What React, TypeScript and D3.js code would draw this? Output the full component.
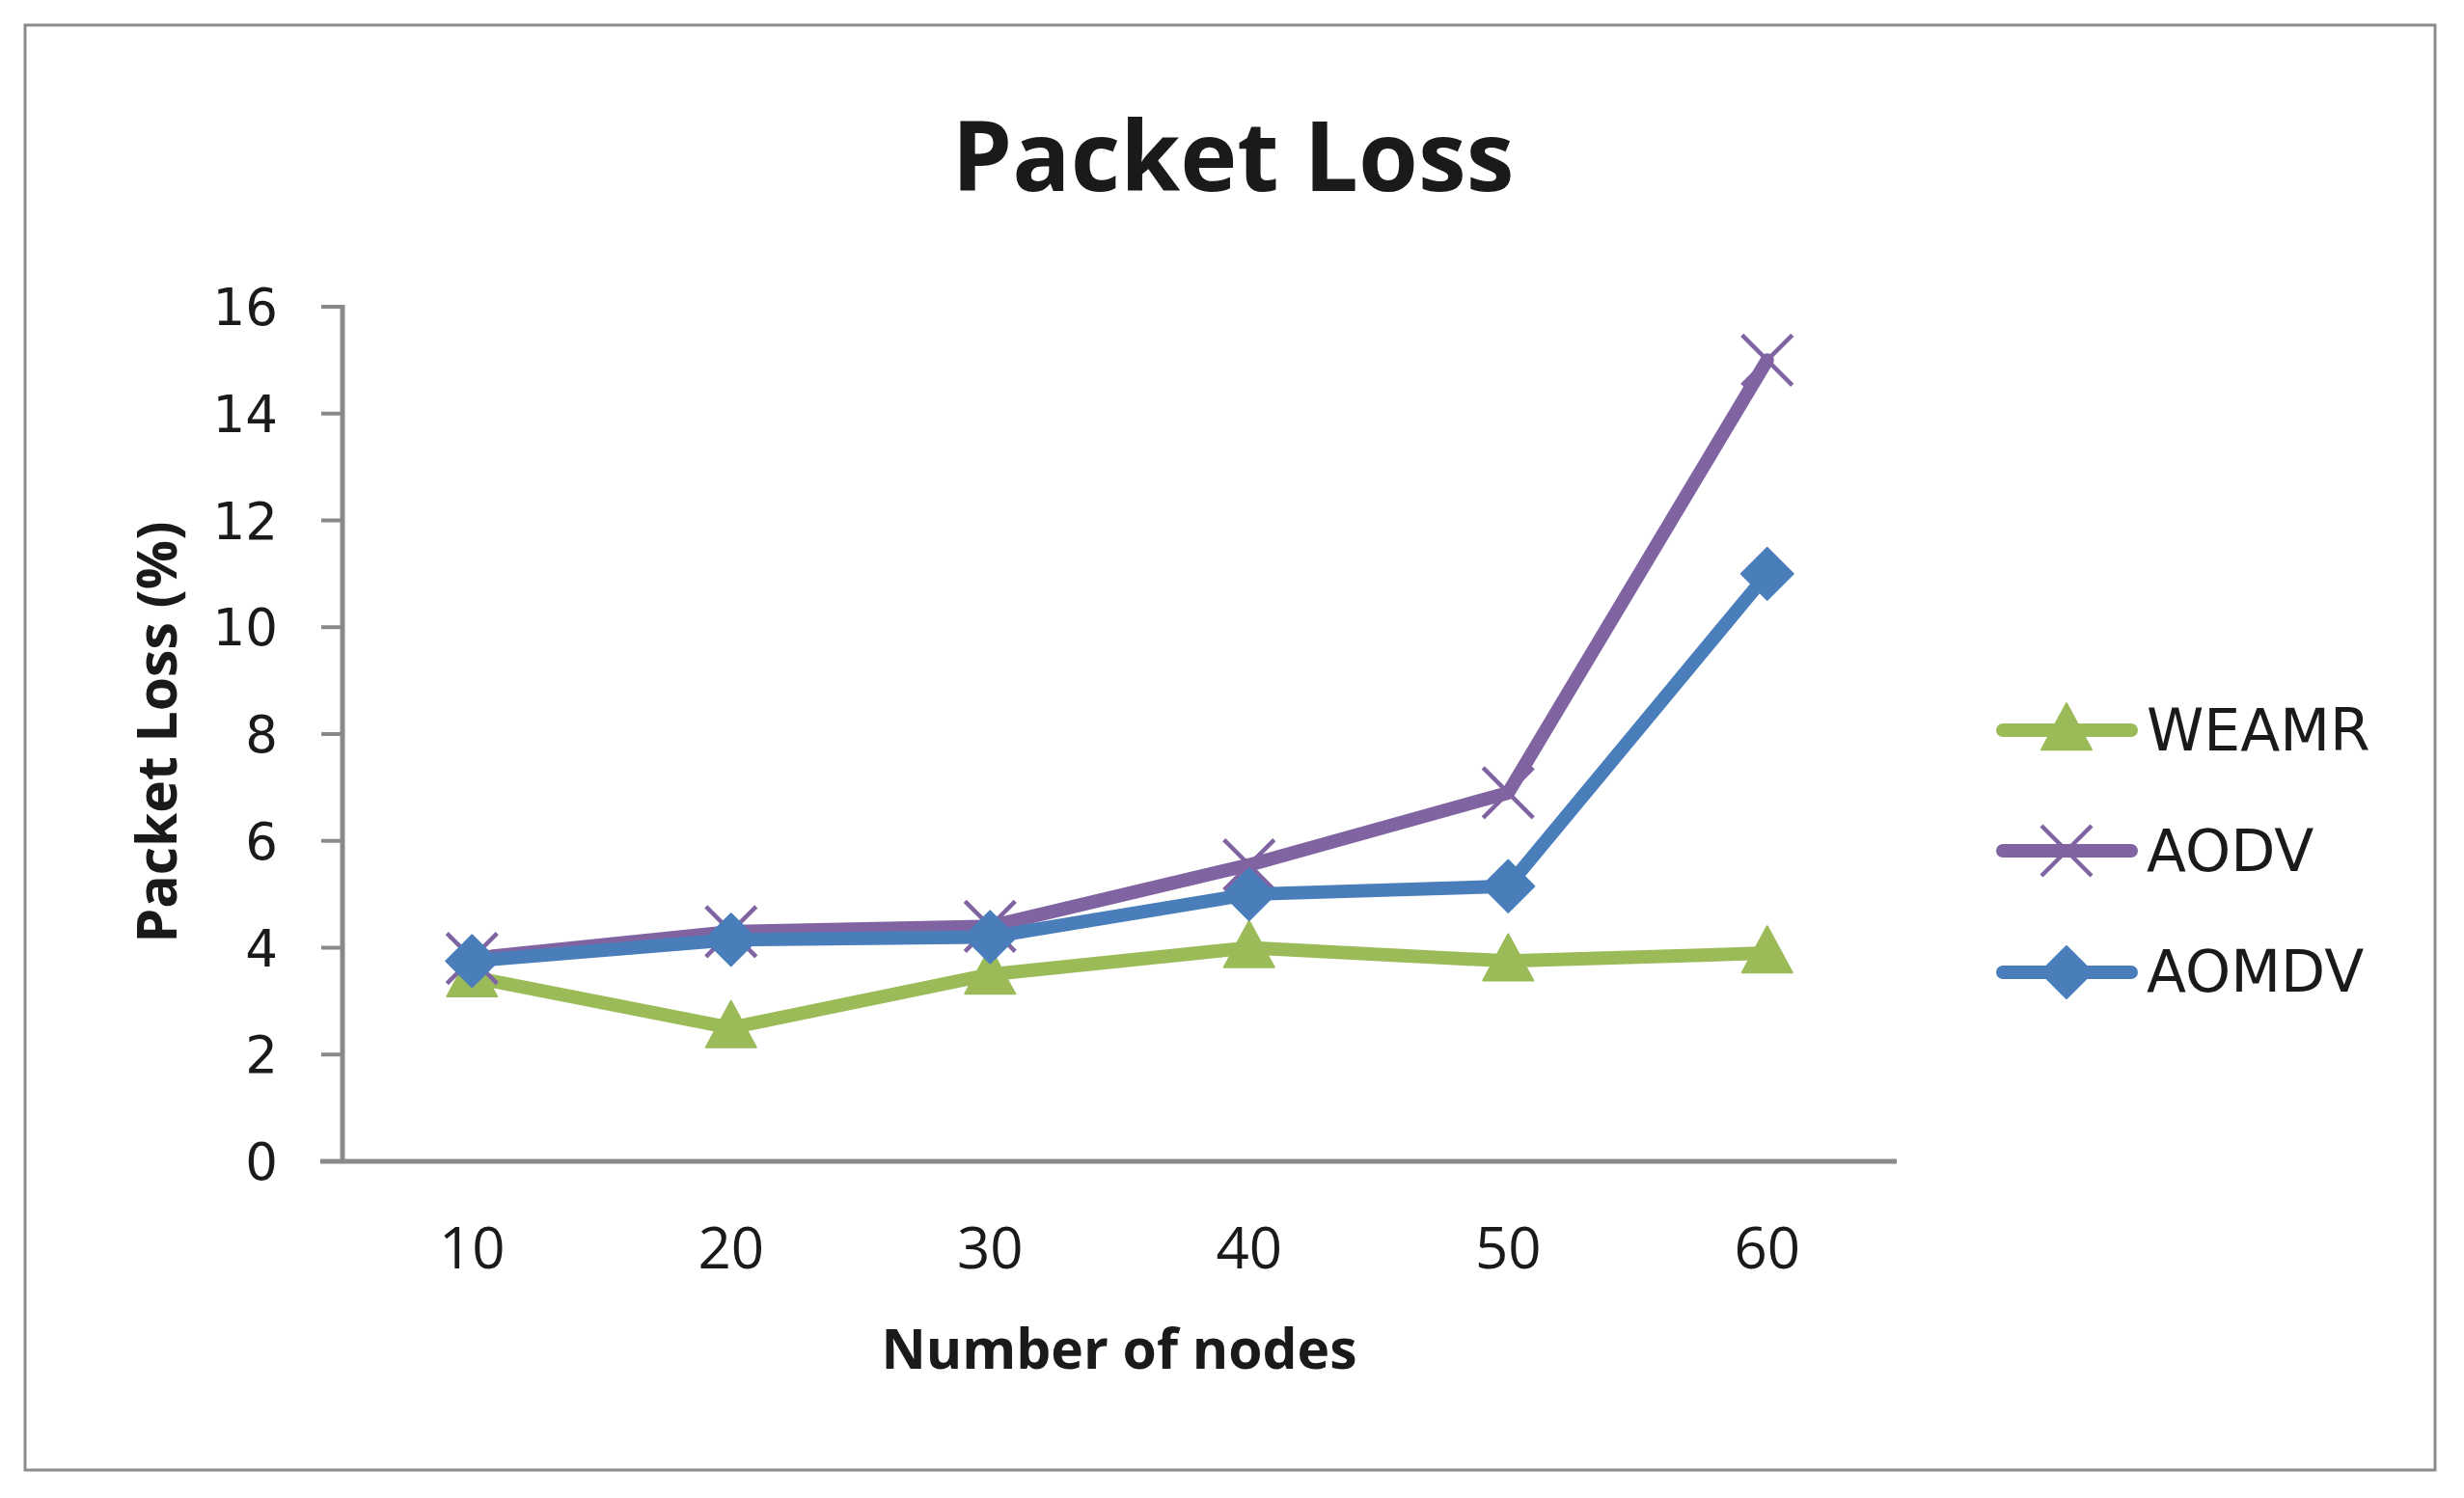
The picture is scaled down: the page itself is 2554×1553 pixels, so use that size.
import React from "react";
import * as d3 from "d3";

const categories = ["10", "20", "30", "40", "50", "60"];
const weamr = [3.45, 2.5, 3.5, 4.0, 3.75, 3.9];
const aodv = [3.8, 4.3, 4.4, 5.55, 6.9, 15];
const aomdv = [3.75, 4.15, 4.2, 5.0, 5.15, 11];
const yTicks = [0, 2, 4, 6, 8, 10, 12, 14, 16];

const series = [
  { name: "WEAMR", values: weamr, color: "#9BBB59", marker: "triangle" },
  { name: "AODV", values: aodv, color: "#8064A2", marker: "x" },
  { name: "AOMDV", values: aomdv, color: "#4A7EBB", marker: "diamond" },
];

const W = 2554;
const H = 1553;
const left = 355;
const right = 1966;
const top = 318;
const bottom = 1204;

function Marker({ type, x, y, color }: { type: string; x: number; y: number; color: string }) {
  if (type === "triangle") {
    const w = 52, h = 48;
    const p = `M${x},${y - h * 0.58} L${x + w / 2},${y + h * 0.42} L${x - w / 2},${y + h * 0.42} Z`;
    return <path d={p} fill={color} stroke={color} strokeWidth={2} strokeLinejoin="round" />;
  }
  if (type === "diamond") {
    const r = 27;
    const p = `M${x},${y - r} L${x + r},${y} L${x},${y + r} L${x - r},${y} Z`;
    return <path d={p} fill={color} stroke={color} strokeWidth={2} strokeLinejoin="round" />;
  }
  const r = 26;
  return (
    <g stroke={color} strokeWidth={4.5}>
      <line x1={x - r} y1={y - r} x2={x + r} y2={y + r} />
      <line x1={x - r} y1={y + r} x2={x + r} y2={y - r} />
    </g>
  );
}

export default function App() {
  const x = d3.scaleBand<string>().domain(categories).range([left, right]);
  const y = d3.scaleLinear().domain([0, 16]).range([bottom, top]);
  const cx = (c: string) => (x(c) as number) + x.bandwidth() / 2;
  const line = d3
    .line<number>()
    .x((_, i) => cx(categories[i]))
    .y((d) => y(d));

  const legendY = [757, 882, 1008];
  const legendBase = [778, 903, 1028];

  return (
    <svg
      width={W}
      height={H}
      style={{ position: "absolute", left: 0, top: 0, background: "#fff" }}
    >
      <rect x={26} y={26} width={2498} height={1498} fill="#fff" stroke="#8c8c8c" strokeWidth={3} />
      <text
        x={1278}
        y={198}
        textAnchor="middle"
        fontFamily="Open Sans"
        fontWeight="bold"
        fontSize={100}
        fill="#1a1a1a"
      >
        Packet Loss
      </text>

      {/* y ticks */}
      {yTicks.map((t) => (
        <g key={t}>
          <line x1={333} x2={left} y1={y(t)} y2={y(t)} stroke="#898989" strokeWidth={4} />
          <text
            x={288}
            y={y(t)}
            dy="0.36em"
            textAnchor="end"
            fontFamily="DejaVu Sans"
            fontSize={53}
            fill="#1a1a1a"
          >
            {t}
          </text>
        </g>
      ))}
      <line x1={left} x2={left} y1={top - 2} y2={bottom} stroke="#898989" strokeWidth={5} />
      <line x1={332} x2={right} y1={bottom} y2={bottom} stroke="#898989" strokeWidth={5} />

      {categories.map((c) => (
        <text
          key={c}
          x={cx(c)}
          y={1315}
          textAnchor="middle"
          fontFamily="Open Sans"
          fontSize={60}
          fill="#1a1a1a"
        >
          {c}
        </text>
      ))}

      <text
        x={1160}
        y={1419}
        textAnchor="middle"
        fontFamily="Open Sans"
        fontWeight="bold"
        fontSize={57}
        fill="#1a1a1a"
      >
        Number of nodes
      </text>
      <text
        transform={`translate(183,759) rotate(-90)`}
        textAnchor="middle"
        fontFamily="Open Sans"
        fontWeight="bold"
        fontSize={57}
        fill="#1a1a1a"
      >
        Packet Loss (%)
      </text>

      {series.map((s) => (
        <g key={s.name}>
          <path
            d={line(s.values) || ""}
            fill="none"
            stroke={s.color}
            strokeWidth={14}
            strokeLinejoin="round"
            strokeLinecap="round"
          />
          {s.values.map((v, i) => (
            <Marker key={i} type={s.marker} x={cx(categories[i])} y={y(v)} color={s.color} />
          ))}
        </g>
      ))}

      {series.map((s, i) => (
        <g key={s.name}>
          <line
            x1={2076}
            x2={2209}
            y1={legendY[i]}
            y2={legendY[i]}
            stroke={s.color}
            strokeWidth={14}
            strokeLinecap="round"
          />
          <Marker type={s.marker} x={2142} y={legendY[i]} color={s.color} />
          <text
            x={2225}
            y={legendBase[i]}
            fontFamily="DejaVu Sans"
            fontSize={60}
            fill="#1a1a1a"
          >
            {s.name}
          </text>
        </g>
      ))}
    </svg>
  );
}
